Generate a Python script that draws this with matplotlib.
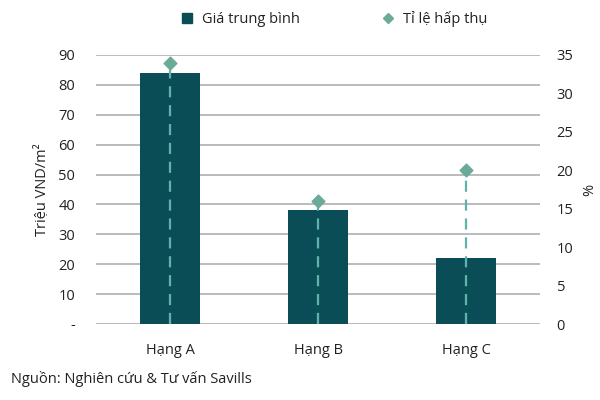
import matplotlib
matplotlib.use("Agg")
import matplotlib.pyplot as plt
from matplotlib.lines import Line2D

categories = ["Hạng A", "Hạng B", "Hạng C"]
avg_price = [84, 38, 22]          # Triệu VND/m2
absorption = [34, 16, 20]         # %
left_ticks = [0, 10, 20, 30, 40, 50, 60, 70, 80, 90]
left_labels = ["-", "10", "20", "30", "40", "50", "60", "70", "80", "90"]
right_ticks = [0, 5, 10, 15, 20, 25, 30, 35]

bar_color = "#0b4d57"
dia_color = "#6aaa98"
dash_color = "#5fb3aa"
grid_color = "#b5b5b5"
text_color = "#222222"

plt.rcParams['font.family'] = ['Open Sans', 'DejaVu Sans']

fig = plt.figure(figsize=(6, 4), dpi=100)
ax = fig.add_axes([0.16, 0.19, 0.74, 0.6725])
ax2 = ax.twinx()

x = list(range(len(categories)))
ax.bar(x, avg_price, width=0.4, color=bar_color, zorder=2)
ax.set_ylim(0, 90)
ax.set_xlim(-0.5, 2.5)
ax.set_yticks(left_ticks)
ax.set_yticklabels(left_labels)
ax.yaxis.grid(True, color=grid_color, linewidth=1.3, zorder=0)
ax.set_axisbelow(True)
ax.set_xticks(x)
ax.set_xticklabels(categories)

ax2.set_ylim(0, 35)
ax2.set_yticks(right_ticks)
ax2.vlines(x, 0, absorption, colors=dash_color, linestyles=(0, (5, 3.5)), linewidth=1.6, zorder=3)
ax2.scatter(x, absorption, marker="D", s=42, color=dia_color, zorder=4)

for a in (ax, ax2):
    for s in a.spines.values():
        s.set_visible(False)
    a.tick_params(length=0, labelsize=10.5, colors=text_color)

ax.tick_params(axis="y", pad=15)
ax.tick_params(axis="x", pad=14)
ax2.tick_params(axis="y", pad=12)

ax.set_ylabel("Triệu VND/m²", fontsize=10.5, color=text_color, labelpad=6)
ax2.set_ylabel("%", fontsize=10.5, color=text_color, labelpad=6)

h1 = Line2D([], [], marker="s", linestyle="none", markersize=7, color=bar_color)
h2 = Line2D([], [], marker="D", linestyle="none", markersize=5, color=dia_color)
fig.legend([h1, h2], ["Giá trung bình", "Tỉ lệ hấp thụ"], loc="center", ncol=2,
           bbox_to_anchor=(0.55, 0.952), frameon=False, fontsize=10.5,
           handletextpad=0.05, columnspacing=5.0, labelcolor=text_color)

fig.text(0.018, 0.043, "Nguồn: Nghiên cứu & Tư vấn Savills", fontsize=10.5, color=text_color)

fig.savefig("out.png", dpi=100)
